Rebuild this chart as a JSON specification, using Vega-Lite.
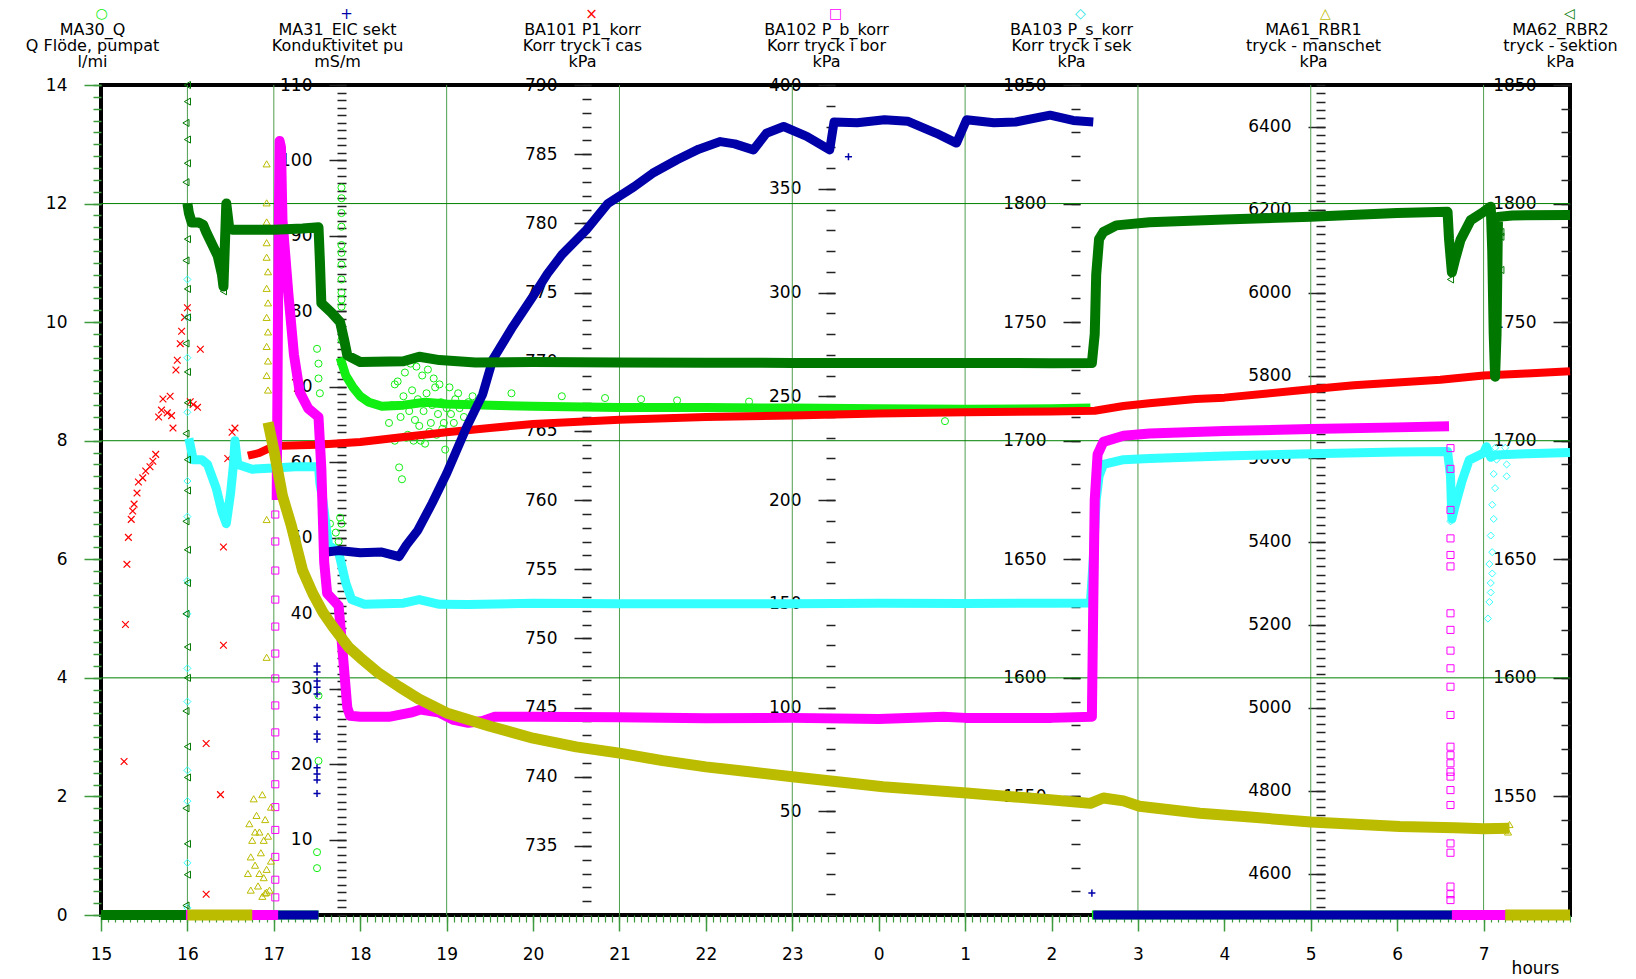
{
"$schema":"https://vega.github.io/schema/vega-lite/v6.json",
"width":1469,"height":830,
"autosize":{"type":"none"},
"padding":{"left":101,"top":85,"right":66,"bottom":64},
"background":"white",
"config":{
 "view":{"stroke":"#000","strokeWidth":4},
 "font":"DejaVu Sans",
 "axis":{"labelFont":"DejaVu Sans","titleFont":"DejaVu Sans","labelColor":"#000","titleColor":"#000","labelFontSize":17,"titleFontWeight":"normal","labelOverlap":false,"labelFlush":false,"domain":false,"grid":false,"tickWidth":1.5}
},
"resolve":{"scale":{"y":"independent"},"axis":{"x":"independent","y":"independent"}},
"datasets":{
"gx":[{"t":16},{"t":17},{"t":19},{"t":21},{"t":23},{"t":25},{"t":27},{"t":29},{"t":31}],
"gy":[{"v":4},{"v":8},{"v":12}],
"ma30l":[{"t":15,"v":0,"g":1},{"t":17.517,"v":0,"g":1},
{"t":17.767,"v":9.4,"g":2},{"t":17.833,"v":9.1,"g":2},{"t":17.917,"v":8.9,"g":2},{"t":18,"v":8.75,"g":2},{"t":18.1,"v":8.65,"g":2},{"t":18.25,"v":8.58,"g":2},{"t":18.5,"v":8.6,"g":2},{"t":18.75,"v":8.65,"g":2},{"t":19,"v":8.62,"g":2},{"t":19.5,"v":8.6,"g":2},{"t":20,"v":8.58,"g":2},{"t":21,"v":8.56,"g":2},{"t":22,"v":8.56,"g":2},{"t":23,"v":8.55,"g":2},{"t":24,"v":8.54,"g":2},{"t":25,"v":8.53,"g":2},{"t":26,"v":8.54,"g":2},{"t":26.45,"v":8.55,"g":2},
{"t":26.467,"v":0,"g":3},{"t":32,"v":0,"g":3}],
"ma30p":[{"t":17.5,"v":1.06},{"t":17.5,"v":0.79},{"t":17.517,"v":2.6},{"t":17.517,"v":3.7},{"t":17.5,"v":9.55},{"t":17.517,"v":9.3},{"t":17.517,"v":9.05},{"t":17.533,"v":8.8},
{"t":17.567,"v":6.9},{"t":17.583,"v":6.5},{"t":17.617,"v":6.3},{"t":17.65,"v":6.6},{"t":17.683,"v":6.2},{"t":17.717,"v":6.45},{"t":17.75,"v":6.3},{"t":17.767,"v":6.7},{"t":17.783,"v":6.6},
{"t":17.783,"v":12.27},{"t":17.783,"v":12.09},{"t":17.783,"v":11.84},{"t":17.783,"v":11.61},{"t":17.783,"v":11.3},{"t":17.783,"v":11.17},{"t":17.783,"v":10.97},{"t":17.783,"v":10.72},{"t":17.783,"v":10.5},{"t":17.783,"v":10.38},{"t":17.783,"v":10.26},{"t":17.783,"v":9.95},{"t":17.783,"v":9.7},
{"t":18.333,"v":8.3},{"t":18.4,"v":8.95},{"t":18.45,"v":7.55},{"t":18.483,"v":7.35},{"t":18.517,"v":9.15},{"t":18.55,"v":8.1},{"t":18.583,"v":9.3},{"t":18.617,"v":8.0},{"t":18.65,"v":9.25},{"t":18.683,"v":8.25},{"t":18.717,"v":9.1},{"t":18.75,"v":7.95},{"t":18.783,"v":9.2},{"t":18.817,"v":8.3},{"t":18.85,"v":9.05},{"t":18.883,"v":8.1},{"t":18.917,"v":8.95},{"t":18.95,"v":8.2},{"t":18.983,"v":7.85},{"t":19.033,"v":8.9},{"t":19.083,"v":8.3},{"t":19.133,"v":8.8},{"t":19.2,"v":8.4},{"t":19.3,"v":8.75},
{"t":18.367,"v":8.6},{"t":18.4,"v":8.0},{"t":18.433,"v":9.0},{"t":18.467,"v":8.4},{"t":18.5,"v":8.75},{"t":18.533,"v":8.05},{"t":18.567,"v":8.5},{"t":18.6,"v":8.85},{"t":18.633,"v":8.35},{"t":18.667,"v":8.7},{"t":18.7,"v":8.0},{"t":18.733,"v":8.5},{"t":18.767,"v":8.8},{"t":18.8,"v":8.15},{"t":18.833,"v":8.6},{"t":18.867,"v":8.9},{"t":18.9,"v":8.45},{"t":18.933,"v":8.65},{"t":18.967,"v":8.3},{"t":19.0,"v":8.55},{"t":19.05,"v":8.45},{"t":19.1,"v":8.7},{"t":19.15,"v":8.55},{"t":19.25,"v":8.65},
{"t":19.75,"v":8.8},{"t":20.333,"v":8.75},{"t":20.833,"v":8.72},{"t":21.25,"v":8.7},{"t":21.667,"v":8.68},{"t":22.5,"v":8.66},{"t":24.767,"v":8.33}],
"ba101l":[{"t":16.7,"v":763.2,"g":1},{"t":16.833,"v":763.4,"g":1},{"t":17,"v":763.9,"g":1},{"t":17.5,"v":764.0,"g":1},{"t":18,"v":764.2,"g":1},{"t":18.5,"v":764.55,"g":1},{"t":19,"v":764.9,"g":1},{"t":19.5,"v":765.2,"g":1},{"t":20,"v":765.5,"g":1},{"t":21,"v":765.8,"g":1},{"t":22,"v":766.0,"g":1},{"t":23,"v":766.1,"g":1},{"t":24,"v":766.25,"g":1},{"t":25,"v":766.35,"g":1},{"t":26,"v":766.4,"g":1},{"t":26.5,"v":766.45,"g":1},{"t":26.833,"v":766.8,"g":1},{"t":27.133,"v":767.0,"g":1},{"t":27.667,"v":767.3,"g":1},{"t":28,"v":767.4,"g":1},{"t":28.5,"v":767.7,"g":1},{"t":29,"v":768.0,"g":1},{"t":29.5,"v":768.3,"g":1},{"t":30,"v":768.5,"g":1},{"t":30.5,"v":768.7,"g":1},{"t":31,"v":769.0,"g":1},{"t":31.5,"v":769.15,"g":1},{"t":32,"v":769.3,"g":1}],
"ba101p":[{"t":15.267,"v":741.1},{"t":15.283,"v":751.0},{"t":15.3,"v":755.35},{"t":15.317,"v":757.3},{"t":15.35,"v":758.6},{"t":15.367,"v":759.2},{"t":15.383,"v":759.7},{"t":15.417,"v":760.5},{"t":15.433,"v":761.3},{"t":15.483,"v":761.6},{"t":15.517,"v":762.1},{"t":15.567,"v":762.4},{"t":15.6,"v":762.8},{"t":15.633,"v":763.3},{"t":15.667,"v":766.0},{"t":15.7,"v":766.5},{"t":15.717,"v":767.3},{"t":15.767,"v":766.3},{"t":15.8,"v":767.5},{"t":15.817,"v":766.1},{"t":15.833,"v":765.2},{"t":15.867,"v":769.4},{"t":15.883,"v":770.1},{"t":15.917,"v":771.3},{"t":15.933,"v":772.2},{"t":15.967,"v":773.2},{"t":16,"v":773.9},{"t":16.033,"v":767.1},{"t":16.067,"v":766.9},{"t":16.117,"v":766.7},{"t":16.15,"v":770.9},{"t":16.217,"v":742.4},{"t":16.217,"v":731.5},{"t":16.383,"v":738.7},{"t":16.417,"v":749.5},{"t":16.417,"v":756.6},{"t":16.467,"v":763.0},{"t":16.517,"v":764.9},{"t":16.55,"v":765.2}],
"ma62l":[{"t":15,"v":0,"g":1},{"t":15.983,"v":0,"g":1},
{"t":16,"v":1800,"g":2},{"t":16.017,"v":1796,"g":2},{"t":16.05,"v":1792,"g":2},{"t":16.133,"v":1792,"g":2},{"t":16.183,"v":1791,"g":2},{"t":16.217,"v":1788,"g":2},{"t":16.283,"v":1783,"g":2},{"t":16.35,"v":1778,"g":2},{"t":16.4,"v":1770,"g":2},{"t":16.417,"v":1765,"g":2},{"t":16.45,"v":1800,"g":2},{"t":16.483,"v":1790,"g":2},{"t":16.517,"v":1789,"g":2},{"t":17,"v":1789,"g":2},{"t":17.333,"v":1789.5,"g":2},{"t":17.517,"v":1790,"g":2},{"t":17.533,"v":1776,"g":2},{"t":17.55,"v":1758,"g":2},{"t":17.667,"v":1754,"g":2},{"t":17.767,"v":1750,"g":2},{"t":17.817,"v":1742,"g":2},{"t":17.85,"v":1736,"g":2},{"t":18,"v":1733.2,"g":2},{"t":18.5,"v":1733.5,"g":2},{"t":18.683,"v":1735.4,"g":2},{"t":18.917,"v":1734,"g":2},{"t":19.333,"v":1733,"g":2},{"t":20,"v":1733.2,"g":2},{"t":21,"v":1733,"g":2},{"t":22,"v":1732.9,"g":2},{"t":23,"v":1732.8,"g":2},{"t":24,"v":1732.8,"g":2},{"t":25,"v":1732.8,"g":2},{"t":26,"v":1732.7,"g":2},{"t":26.467,"v":1732.8,"g":2},{"t":26.5,"v":1745,"g":2},{"t":26.517,"v":1770,"g":2},{"t":26.55,"v":1785,"g":2},{"t":26.6,"v":1788,"g":2},{"t":26.75,"v":1790.8,"g":2},{"t":27.133,"v":1792.1,"g":2},{"t":28,"v":1793.3,"g":2},{"t":29,"v":1794.4,"g":2},{"t":30,"v":1796,"g":2},{"t":30.583,"v":1796.5,"g":2},{"t":30.6,"v":1785,"g":2},{"t":30.633,"v":1771,"g":2},{"t":30.667,"v":1776,"g":2},{"t":30.733,"v":1784.7,"g":2},{"t":30.85,"v":1793,"g":2},{"t":31,"v":1796.5,"g":2},{"t":31.083,"v":1798.7,"g":2},{"t":31.1,"v":1780,"g":2},{"t":31.117,"v":1745,"g":2},{"t":31.133,"v":1727,"g":2},{"t":31.15,"v":1745,"g":2},{"t":31.167,"v":1794.4,"g":2},{"t":31.333,"v":1795,"g":2},{"t":32,"v":1795.2,"g":2}],
"ma62p":[{"t":16,"v":1850},{"t":16,"v":1843},{"t":15.983,"v":1834},{"t":16,"v":1827},{"t":16,"v":1817},{"t":15.983,"v":1809},{"t":16,"v":1798},{"t":16,"v":1785},{"t":15.983,"v":1776},{"t":16,"v":1764},{"t":16,"v":1752},{"t":15.983,"v":1741},{"t":16,"v":1729},{"t":16,"v":1716},{"t":15.983,"v":1703},{"t":16,"v":1692},{"t":16,"v":1679},{"t":15.983,"v":1666},{"t":16,"v":1654},{"t":16,"v":1640},{"t":15.983,"v":1627},{"t":16,"v":1613},{"t":16,"v":1600},{"t":15.983,"v":1586},{"t":16,"v":1571},{"t":16,"v":1558},{"t":15.983,"v":1545},{"t":16,"v":1530},{"t":16,"v":1517},{"t":15.983,"v":1504},{"t":16.417,"v":1763},
{"t":30.617,"v":1768},{"t":30.617,"v":1773},{"t":30.617,"v":1779},{"t":30.6,"v":1786},{"t":30.6,"v":1791},
{"t":31.1,"v":1790},{"t":31.1,"v":1760},{"t":31.117,"v":1735},{"t":31.117,"v":1770},{"t":31.133,"v":1750},{"t":31.133,"v":1728},{"t":31.15,"v":1765},{"t":31.15,"v":1782},{"t":31.2,"v":1788},{"t":31.2,"v":1772},{"t":31.2,"v":1786}],
"ba103l":[{"t":15,"v":0,"g":1},{"t":15.983,"v":0,"g":1},
{"t":16.017,"v":1701,"g":2},{"t":16.067,"v":1692,"g":2},{"t":16.167,"v":1692,"g":2},{"t":16.233,"v":1690,"g":2},{"t":16.333,"v":1680,"g":2},{"t":16.4,"v":1670,"g":2},{"t":16.45,"v":1665,"g":2},{"t":16.5,"v":1678,"g":2},{"t":16.533,"v":1690,"g":2},{"t":16.55,"v":1700,"g":2},{"t":16.583,"v":1690,"g":2},{"t":16.75,"v":1688,"g":2},{"t":17,"v":1688.5,"g":2},{"t":17.25,"v":1689,"g":2},{"t":17.517,"v":1689,"g":2},{"t":17.533,"v":1682,"g":2},{"t":17.567,"v":1675,"g":2},{"t":17.633,"v":1656,"g":2},{"t":17.75,"v":1653,"g":2},{"t":17.833,"v":1640,"g":2},{"t":17.9,"v":1633,"g":2},{"t":18.05,"v":1631,"g":2},{"t":18.5,"v":1631.5,"g":2},{"t":18.683,"v":1633,"g":2},{"t":18.917,"v":1631,"g":2},{"t":19.25,"v":1630.9,"g":2},{"t":20,"v":1631.5,"g":2},{"t":21,"v":1631.3,"g":2},{"t":22,"v":1631.3,"g":2},{"t":23,"v":1631.2,"g":2},{"t":24,"v":1631.5,"g":2},{"t":25,"v":1631.4,"g":2},{"t":26,"v":1631.5,"g":2},{"t":26.45,"v":1631.6,"g":2},{"t":26.483,"v":1650,"g":2},{"t":26.517,"v":1675,"g":2},{"t":26.55,"v":1685,"g":2},{"t":26.6,"v":1690,"g":2},{"t":26.833,"v":1692,"g":2},{"t":27.133,"v":1692.5,"g":2},{"t":28,"v":1693.6,"g":2},{"t":29,"v":1694.5,"g":2},{"t":30,"v":1695.2,"g":2},{"t":30.583,"v":1695.5,"g":2},{"t":30.617,"v":1685,"g":2},{"t":30.633,"v":1667,"g":2},{"t":30.667,"v":1672,"g":2},{"t":30.75,"v":1683,"g":2},{"t":30.833,"v":1691.8,"g":2},{"t":31,"v":1694.8,"g":2},{"t":31.033,"v":1697.5,"g":2},{"t":31.083,"v":1693,"g":2},{"t":31.133,"v":1694,"g":2},{"t":31.5,"v":1694.5,"g":2},{"t":32,"v":1695,"g":2}],
"ba103p":[{"t":16,"v":1503},{"t":16,"v":1522},{"t":16,"v":1548},{"t":16,"v":1561},{"t":16,"v":1590},{"t":16,"v":1604},{"t":16,"v":1627},{"t":16,"v":1641},{"t":16,"v":1668},{"t":16,"v":1683},{"t":16,"v":1712},{"t":16,"v":1735},{"t":16,"v":1752},{"t":16,"v":1768},
{"t":30.617,"v":1666},{"t":30.617,"v":1675},{"t":30.633,"v":1680},
{"t":31.05,"v":1625},{"t":31.067,"v":1632},{"t":31.083,"v":1640},{"t":31.067,"v":1648},{"t":31.1,"v":1653},{"t":31.083,"v":1660},{"t":31.117,"v":1667},{"t":31.1,"v":1673},{"t":31.133,"v":1680},{"t":31.117,"v":1686},{"t":31.15,"v":1692},{"t":31.133,"v":1697},{"t":31.083,"v":1636},{"t":31.1,"v":1644},{"t":31.25,"v":1697},{"t":31.267,"v":1690},{"t":31.267,"v":1685}],
"ma31l":[{"t":15,"v":0,"g":1},{"t":17.517,"v":0,"g":1},
{"t":17.55,"v":48.0,"g":2},{"t":17.75,"v":48.3,"g":2},{"t":18,"v":48.0,"g":2},{"t":18.25,"v":48.1,"g":2},{"t":18.45,"v":47.5,"g":2},{"t":18.533,"v":49.0,"g":2},{"t":18.667,"v":51.0,"g":2},{"t":18.833,"v":54.6,"g":2},{"t":19,"v":58.5,"g":2},{"t":19.233,"v":64.7,"g":2},{"t":19.417,"v":69.0,"g":2},{"t":19.533,"v":73.6,"g":2},{"t":19.767,"v":78.0,"g":2},{"t":20,"v":82.0,"g":2},{"t":20.167,"v":85.0,"g":2},{"t":20.333,"v":87.5,"g":2},{"t":20.617,"v":90.8,"g":2},{"t":20.867,"v":94.3,"g":2},{"t":21.167,"v":96.5,"g":2},{"t":21.383,"v":98.3,"g":2},{"t":21.667,"v":100.1,"g":2},{"t":21.917,"v":101.5,"g":2},{"t":22.167,"v":102.5,"g":2},{"t":22.333,"v":102.2,"g":2},{"t":22.55,"v":101.4,"g":2},{"t":22.7,"v":103.6,"g":2},{"t":22.9,"v":104.5,"g":2},{"t":23.167,"v":103.2,"g":2},{"t":23.433,"v":101.4,"g":2},{"t":23.483,"v":105.1,"g":2},{"t":23.75,"v":105.0,"g":2},{"t":24.067,"v":105.4,"g":2},{"t":24.333,"v":105.2,"g":2},{"t":24.667,"v":103.6,"g":2},{"t":24.9,"v":102.3,"g":2},{"t":25.017,"v":105.4,"g":2},{"t":25.333,"v":105.0,"g":2},{"t":25.583,"v":105.1,"g":2},{"t":25.983,"v":106.0,"g":2},{"t":26.25,"v":105.3,"g":2},{"t":26.483,"v":105.1,"g":2},
{"t":26.483,"v":0,"g":3},{"t":32,"v":0,"g":3}],
"ma31p":[{"t":17.5,"v":33.0},{"t":17.5,"v":32.2},{"t":17.5,"v":31.0},{"t":17.5,"v":30.2},{"t":17.5,"v":29.3},{"t":17.5,"v":27.5},{"t":17.5,"v":26.2},{"t":17.5,"v":24.0},{"t":17.5,"v":23.3},{"t":17.5,"v":19.5},{"t":17.5,"v":18.7},{"t":17.5,"v":17.9},{"t":17.5,"v":16.1},{"t":23.65,"v":100.5},{"t":26.467,"v":38.2},{"t":26.467,"v":2.9}],
"ba102l":[{"t":15,"v":0,"g":1},{"t":17.05,"v":0,"g":1},
{"t":17.033,"v":200,"g":2},{"t":17.05,"v":300,"g":2},{"t":17.067,"v":373,"g":2},{"t":17.083,"v":370,"g":2},{"t":17.1,"v":335,"g":2},{"t":17.167,"v":300,"g":2},{"t":17.233,"v":270,"g":2},{"t":17.3,"v":252,"g":2},{"t":17.4,"v":244,"g":2},{"t":17.517,"v":240,"g":2},{"t":17.55,"v":215,"g":2},{"t":17.583,"v":170,"g":2},{"t":17.617,"v":155,"g":2},{"t":17.75,"v":149,"g":2},{"t":17.8,"v":125,"g":2},{"t":17.85,"v":100,"g":2},{"t":17.883,"v":96,"g":2},{"t":18,"v":95.5,"g":2},{"t":18.333,"v":95.5,"g":2},{"t":18.583,"v":97.5,"g":2},{"t":18.7,"v":99,"g":2},{"t":18.917,"v":97.5,"g":2},{"t":19.083,"v":94,"g":2},{"t":19.25,"v":92.6,"g":2},{"t":19.417,"v":93.5,"g":2},{"t":19.55,"v":95.5,"g":2},{"t":20,"v":95.5,"g":2},{"t":21,"v":95.3,"g":2},{"t":22,"v":94.8,"g":2},{"t":23,"v":95.0,"g":2},{"t":24,"v":94.5,"g":2},{"t":24.75,"v":95.5,"g":2},{"t":25,"v":95,"g":2},{"t":26,"v":95,"g":2},{"t":26.467,"v":95.5,"g":2},{"t":26.483,"v":150,"g":2},{"t":26.5,"v":200,"g":2},{"t":26.533,"v":222,"g":2},{"t":26.6,"v":228,"g":2},{"t":26.833,"v":231,"g":2},{"t":27.133,"v":232,"g":2},{"t":28,"v":233.2,"g":2},{"t":29,"v":234.2,"g":2},{"t":30,"v":235,"g":2},{"t":30.6,"v":235.5,"g":2},
{"t":30.633,"v":0,"g":3},{"t":32,"v":0,"g":3}],
"ba102p":[{"t":17.017,"v":8.5},{"t":17.017,"v":17},{"t":17.017,"v":28},{"t":17.017,"v":41},{"t":17.017,"v":52},{"t":17.017,"v":63},{"t":17.017,"v":77},{"t":17.017,"v":88},{"t":17.017,"v":101},{"t":17.017,"v":114},{"t":17.017,"v":126},{"t":17.017,"v":139},{"t":17.017,"v":152},{"t":17.017,"v":166},{"t":17.017,"v":180},{"t":17.017,"v":193},
{"t":30.617,"v":225},{"t":30.617,"v":215},{"t":30.617,"v":195.2},{"t":30.617,"v":181.5},{"t":30.617,"v":173.5},{"t":30.617,"v":168},{"t":30.617,"v":145.4},{"t":30.617,"v":137.4},{"t":30.617,"v":127.4},{"t":30.617,"v":118.9},{"t":30.617,"v":110},{"t":30.617,"v":96.4},{"t":30.617,"v":81.1},{"t":30.617,"v":77},{"t":30.617,"v":73.1},{"t":30.617,"v":69},{"t":30.617,"v":66.7},{"t":30.617,"v":60.2},{"t":30.617,"v":53},{"t":30.617,"v":34.5},{"t":30.617,"v":30},{"t":30.617,"v":13.7},{"t":30.617,"v":10},{"t":30.617,"v":7.2}],
"ma61l":[{"t":16.0,"v":0,"g":1},{"t":16.75,"v":0,"g":1},
{"t":16.933,"v":5687,"g":2},{"t":17.0,"v":5621,"g":2},{"t":17.1,"v":5510,"g":2},{"t":17.2,"v":5440,"g":2},{"t":17.333,"v":5330,"g":2},{"t":17.45,"v":5275,"g":2},{"t":17.567,"v":5230,"g":2},{"t":17.683,"v":5195,"g":2},{"t":17.867,"v":5145,"g":2},{"t":18,"v":5120,"g":2},{"t":18.2,"v":5085,"g":2},{"t":18.45,"v":5050,"g":2},{"t":18.683,"v":5020,"g":2},{"t":19,"v":4987,"g":2},{"t":19.5,"v":4955,"g":2},{"t":20,"v":4926,"g":2},{"t":20.5,"v":4905,"g":2},{"t":21,"v":4890,"g":2},{"t":21.5,"v":4872,"g":2},{"t":22,"v":4857,"g":2},{"t":22.5,"v":4845,"g":2},{"t":23,"v":4833,"g":2},{"t":24.05,"v":4809,"g":2},{"t":25.017,"v":4794,"g":2},{"t":26.017,"v":4777,"g":2},{"t":26.45,"v":4769,"g":2},{"t":26.6,"v":4782,"g":2},{"t":26.833,"v":4775,"g":2},{"t":27.017,"v":4762,"g":2},{"t":27.717,"v":4745,"g":2},{"t":28.3,"v":4736,"g":2},{"t":29,"v":4724,"g":2},{"t":30.033,"v":4713,"g":2},{"t":30.667,"v":4710,"g":2},{"t":31,"v":4708,"g":2},{"t":31.3,"v":4709,"g":2},
{"t":31.25,"v":0,"g":3},{"t":32,"v":0,"g":3}],
"ma61p":[{"t":16.7,"v":4600},{"t":16.717,"v":4720},{"t":16.733,"v":4560},{"t":16.75,"v":4680},{"t":16.767,"v":4780},{"t":16.783,"v":4620},{"t":16.8,"v":4740},{"t":16.817,"v":4570},{"t":16.833,"v":4700},{"t":16.85,"v":4650},{"t":16.867,"v":4790},{"t":16.883,"v":4590},{"t":16.9,"v":4730},{"t":16.917,"v":4610},{"t":16.933,"v":4690},{"t":16.95,"v":4560},{"t":16.967,"v":4760},{"t":16.733,"v":4640},{"t":16.833,"v":4600},{"t":16.883,"v":4680},{"t":16.783,"v":4700},{"t":16.917,"v":4555},{"t":16.967,"v":4630},{"t":16.867,"v":4545},
{"t":16.917,"v":6310},{"t":16.917,"v":6216},{"t":16.917,"v":6170},{"t":16.917,"v":6120},{"t":16.917,"v":6085},{"t":16.933,"v":6050},{"t":16.917,"v":6010},{"t":16.933,"v":5975},{"t":16.917,"v":5940},{"t":16.933,"v":5905},{"t":16.917,"v":5870},{"t":16.933,"v":5835},{"t":16.917,"v":5800},{"t":16.933,"v":5765},{"t":16.917,"v":5453},{"t":16.917,"v":5121},{"t":16.9,"v":4553},
{"t":31.25,"v":4712},{"t":31.283,"v":4700},{"t":31.3,"v":4718}]
},
"layer":[
{"data":{"name":"gx"},
 "mark":{"type":"rule","color":"#4f9f4f","strokeWidth":1},
 "encoding":{
  "x":{"field":"t","type":"quantitative","scale":{"domain":[15,32],"nice":false,"zero":false},
   "axis":{"orient":"bottom","values":[15,16,17,18,19,20,21,22,23,24,25,26,27,28,29,30,31],"labelExpr":"'' + (datum.value % 24)","tickSize":16,"tickColor":"#3d9a3d","labelPadding":15,"title":"hours","titleX":1434,"titleY":58,"titleAlign":"center","titleBaseline":"alphabetic","titleFontSize":17,"zindex":0}}}},
{"data":{"name":"gy"},
 "mark":{"type":"rule","color":"#008000","strokeWidth":1},
 "encoding":{
  "y":{"field":"v","type":"quantitative","scale":{"domain":[0,14],"nice":false,"zero":false},"axis":null}}},
{"data":{"name":"ma30l"},
 "mark":{"type":"line","color":"#11ee11","strokeWidth":9,"strokeJoin":"round"},
 "encoding":{
  "x":{"field":"t","type":"quantitative","scale":{"domain":[15,32],"nice":false,"zero":false},"axis":null},
  "y":{"field":"v","type":"quantitative","scale":{"domain":[0,14],"nice":false,"zero":false,"clamp":true},
   "axis":{"orient":"left","offset":0,"values":[0,2,4,6,8,10,12,14],"format":"d","tickSize":17,"tickColor":"#3d9a3d","labelPadding":17,"title":["MA30_Q","Q Flöde, pumpat","l/mi"],"titleX":-9,"titleY":-51,"titleAngle":0,"titleAlign":"center","titleBaseline":"alphabetic","titleFontSize":16,"titleLineHeight":16,"zindex":0}},
  "detail":{"field":"g","type":"nominal"}}},
{"data":{"name":"ma30p"},
 "mark":{"type":"point","shape":"circle","filled":false,"size":50,"strokeWidth":1,"color":"#11ee11","opacity":1},
 "encoding":{
  "x":{"field":"t","type":"quantitative","scale":{"domain":[15,32],"nice":false,"zero":false},
   "axis":{"orient":"bottom","values":[15,15.083,15.167,15.25,15.333,15.417,15.5,15.583,15.667,15.75,15.833,15.917,16,16.083,16.167,16.25,16.333,16.417,16.5,16.583,16.667,16.75,16.833,16.917,17,17.083,17.167,17.25,17.333,17.417,17.5,17.583,17.667,17.75,17.833,17.917,18,18.083,18.167,18.25,18.333,18.417,18.5,18.583,18.667,18.75,18.833,18.917,19,19.083,19.167,19.25,19.333,19.417,19.5,19.583,19.667,19.75,19.833,19.917,20,20.083,20.167,20.25,20.333,20.417,20.5,20.583,20.667,20.75,20.833,20.917,21,21.083,21.167,21.25,21.333,21.417,21.5,21.583,21.667,21.75,21.833,21.917,22,22.083,22.167,22.25,22.333,22.417,22.5,22.583,22.667,22.75,22.833,22.917,23,23.083,23.167,23.25,23.333,23.417,23.5,23.583,23.667,23.75,23.833,23.917,24,24.083,24.167,24.25,24.333,24.417,24.5,24.583,24.667,24.75,24.833,24.917,25,25.083,25.167,25.25,25.333,25.417,25.5,25.583,25.667,25.75,25.833,25.917,26,26.083,26.167,26.25,26.333,26.417,26.5,26.583,26.667,26.75,26.833,26.917,27,27.083,27.167,27.25,27.333,27.417,27.5,27.583,27.667,27.75,27.833,27.917,28,28.083,28.167,28.25,28.333,28.417,28.5,28.583,28.667,28.75,28.833,28.917,29,29.083,29.167,29.25,29.333,29.417,29.5,29.583,29.667,29.75,29.833,29.917,30,30.083,30.167,30.25,30.333,30.417,30.5,30.583,30.667,30.75,30.833,30.917,31,31.083,31.167,31.25,31.333,31.417,31.5,31.583,31.667,31.75,31.833,31.917,32],"labels":false,"tickSize":7,"tickColor":"#3d9a3d","tickWidth":1.2,"title":null,"zindex":0}},
  "y":{"field":"v","type":"quantitative","scale":{"domain":[0,14],"nice":false,"zero":false,"clamp":true},
   "axis":{"orient":"left","offset":0,"tickCount":70,"labels":false,"tickSize":8,"tickColor":"#3d9a3d","title":"○","titleColor":"#11ee11","titleFontSize":14,"titleX":0,"titleY":-72,"titleAngle":0,"titleAlign":"center","titleBaseline":"middle","zindex":0}}}},
{"data":{"name":"ba101l"},
 "mark":{"type":"line","color":"#ff0000","strokeWidth":8,"strokeJoin":"round"},
 "encoding":{
  "x":{"field":"t","type":"quantitative","scale":{"domain":[15,32],"nice":false,"zero":false},"axis":null},
  "y":{"field":"v","type":"quantitative","scale":{"domain":[730,790],"nice":false,"zero":false,"clamp":true},
   "axis":{"orient":"left","offset":-490,"values":[735,740,745,750,755,760,765,770,775,780,785,790],"format":"d","tickSize":17,"tickColor":"#222","labelPadding":17,"title":["BA101 P1_korr","Korr tryck i cas","kPa"],"titleX":-9,"titleY":-51,"titleAngle":0,"titleAlign":"center","titleBaseline":"alphabetic","titleFontSize":16,"titleLineHeight":16,"zindex":0}},
  "detail":{"field":"g","type":"nominal"}}},
{"data":{"name":"ba101p"},
 "mark":{"type":"point","shape":"M-1,-1L1,1M-1,1L1,-1","filled":false,"size":45,"strokeWidth":1.2,"color":"#ff0000","opacity":1},
 "encoding":{
  "x":{"field":"t","type":"quantitative","scale":{"domain":[15,32],"nice":false,"zero":false},"axis":null},
  "y":{"field":"v","type":"quantitative","scale":{"domain":[730,790],"nice":false,"zero":false,"clamp":true},
   "axis":{"orient":"left","offset":-490,"tickCount":60,"labels":false,"tickSize":9,"tickColor":"#222","title":"×","titleColor":"#ff0000","titleFontSize":15,"titleX":0,"titleY":-72,"titleAngle":0,"titleAlign":"center","titleBaseline":"middle","zindex":0}}}},
{"data":{"name":"ba103l"},
 "mark":{"type":"line","color":"#33ffff","strokeWidth":9,"strokeJoin":"round"},
 "encoding":{
  "x":{"field":"t","type":"quantitative","scale":{"domain":[15,32],"nice":false,"zero":false},"axis":null},
  "y":{"field":"v","type":"quantitative","scale":{"domain":[1500,1850],"nice":false,"zero":false,"clamp":true},
   "axis":{"orient":"left","offset":-979,"values":[1550,1600,1650,1700,1750,1800,1850],"format":"d","tickSize":17,"tickColor":"#222","labelPadding":17,"title":["BA103 P_s_korr","Korr tryck i sek","kPa"],"titleX":-9,"titleY":-51,"titleAngle":0,"titleAlign":"center","titleBaseline":"alphabetic","titleFontSize":16,"titleLineHeight":16,"zindex":0}},
  "detail":{"field":"g","type":"nominal"}}},
{"data":{"name":"ba103p"},
 "mark":{"type":"point","shape":"diamond","filled":false,"size":50,"strokeWidth":1,"color":"#33ffff","opacity":1},
 "encoding":{
  "x":{"field":"t","type":"quantitative","scale":{"domain":[15,32],"nice":false,"zero":false},"axis":null},
  "y":{"field":"v","type":"quantitative","scale":{"domain":[1500,1850],"nice":false,"zero":false,"clamp":true},
   "axis":{"orient":"left","offset":-979,"tickCount":35,"labels":false,"tickSize":9,"tickColor":"#222","title":"◇","titleColor":"#22e5e5","titleFontSize":14,"titleX":0,"titleY":-72,"titleAngle":0,"titleAlign":"center","titleBaseline":"middle","zindex":0}}}},
{"data":{"name":"ma31l"},
 "mark":{"type":"line","color":"#0000a8","strokeWidth":9,"strokeJoin":"round"},
 "encoding":{
  "x":{"field":"t","type":"quantitative","scale":{"domain":[15,32],"nice":false,"zero":false},"axis":null},
  "y":{"field":"v","type":"quantitative","scale":{"domain":[0,110],"nice":false,"zero":false,"clamp":true},
   "axis":{"orient":"left","offset":-245,"values":[10,20,30,40,50,60,70,80,90,100,110],"format":"d","tickSize":17,"tickColor":"#222","labelPadding":17,"title":["MA31_EIC sekt","Konduktivitet pu","mS/m"],"titleX":-9,"titleY":-51,"titleAngle":0,"titleAlign":"center","titleBaseline":"alphabetic","titleFontSize":16,"titleLineHeight":16,"zindex":0}},
  "detail":{"field":"g","type":"nominal"}}},
{"data":{"name":"ma31p"},
 "mark":{"type":"point","shape":"M-1,0L1,0M0,-1L0,1","filled":false,"size":50,"strokeWidth":1.5,"color":"#0000a8","opacity":1},
 "encoding":{
  "x":{"field":"t","type":"quantitative","scale":{"domain":[15,32],"nice":false,"zero":false},"axis":null},
  "y":{"field":"v","type":"quantitative","scale":{"domain":[0,110],"nice":false,"zero":false,"clamp":true},
   "axis":{"orient":"left","offset":-245,"tickCount":110,"labels":false,"tickSize":9,"tickColor":"#222","title":"+","titleColor":"#0000a8","titleFontSize":15,"titleX":0,"titleY":-72,"titleAngle":0,"titleAlign":"center","titleBaseline":"middle","zindex":0}}}},
{"data":{"name":"ba102l"},
 "mark":{"type":"line","color":"#ff00ff","strokeWidth":10,"strokeJoin":"round"},
 "encoding":{
  "x":{"field":"t","type":"quantitative","scale":{"domain":[15,32],"nice":false,"zero":false},"axis":null},
  "y":{"field":"v","type":"quantitative","scale":{"domain":[0,400],"nice":false,"zero":false,"clamp":true},
   "axis":{"orient":"left","offset":-734,"values":[50,100,150,200,250,300,350,400],"format":"d","tickSize":17,"tickColor":"#222","labelPadding":17,"title":["BA102 P_b_korr","Korr tryck i bor","kPa"],"titleX":-9,"titleY":-51,"titleAngle":0,"titleAlign":"center","titleBaseline":"alphabetic","titleFontSize":16,"titleLineHeight":16,"zindex":0}},
  "detail":{"field":"g","type":"nominal"}}},
{"data":{"name":"ba102p"},
 "mark":{"type":"point","shape":"square","filled":false,"size":50,"strokeWidth":1,"color":"#ff00ff","opacity":1},
 "encoding":{
  "x":{"field":"t","type":"quantitative","scale":{"domain":[15,32],"nice":false,"zero":false},"axis":null},
  "y":{"field":"v","type":"quantitative","scale":{"domain":[0,400],"nice":false,"zero":false,"clamp":true},
   "axis":{"orient":"left","offset":-734,"tickCount":40,"labels":false,"tickSize":9,"tickColor":"#222","title":"□","titleColor":"#ff00ff","titleFontSize":14,"titleX":0,"titleY":-72,"titleAngle":0,"titleAlign":"center","titleBaseline":"middle","zindex":0}}}},
{"data":{"name":"ma61l"},
 "mark":{"type":"line","color":"#bbbb00","strokeWidth":11,"strokeJoin":"round"},
 "encoding":{
  "x":{"field":"t","type":"quantitative","scale":{"domain":[15,32],"nice":false,"zero":false},"axis":null},
  "y":{"field":"v","type":"quantitative","scale":{"domain":[4500,6500],"nice":false,"zero":false,"clamp":true},
   "axis":{"orient":"left","offset":-1224,"values":[4600,4800,5000,5200,5400,5600,5800,6000,6200,6400],"format":"d","tickSize":17,"tickColor":"#222","labelPadding":17,"title":["MA61_RBR1","tryck - manschet","kPa"],"titleX":-12,"titleY":-51,"titleAngle":0,"titleAlign":"center","titleBaseline":"alphabetic","titleFontSize":16,"titleLineHeight":16,"zindex":0}},
  "detail":{"field":"g","type":"nominal"}}},
{"data":{"name":"ma61p"},
 "mark":{"type":"point","shape":"triangle-up","filled":false,"size":50,"strokeWidth":1,"color":"#bbbb00","opacity":1},
 "encoding":{
  "x":{"field":"t","type":"quantitative","scale":{"domain":[15,32],"nice":false,"zero":false},"axis":null},
  "y":{"field":"v","type":"quantitative","scale":{"domain":[4500,6500],"nice":false,"zero":false,"clamp":true},
   "axis":{"orient":"left","offset":-1224,"tickCount":100,"labels":false,"tickSize":9,"tickColor":"#222","title":"△","titleColor":"#bbbb00","titleFontSize":14,"titleX":0,"titleY":-72,"titleAngle":0,"titleAlign":"center","titleBaseline":"middle","zindex":0}}}},
{"data":{"name":"ma62l"},
 "mark":{"type":"line","color":"#007800","strokeWidth":10,"strokeJoin":"round"},
 "encoding":{
  "x":{"field":"t","type":"quantitative","scale":{"domain":[15,32],"nice":false,"zero":false},"axis":null},
  "y":{"field":"v","type":"quantitative","scale":{"domain":[1500,1850],"nice":false,"zero":false,"clamp":true},
   "axis":{"orient":"left","offset":-1469,"values":[1550,1600,1650,1700,1750,1800,1850],"format":"d","tickSize":17,"tickColor":"#222","labelPadding":17,"title":["MA62_RBR2","tryck - sektion","kPa"],"titleX":-10,"titleY":-51,"titleAngle":0,"titleAlign":"center","titleBaseline":"alphabetic","titleFontSize":16,"titleLineHeight":16,"zindex":0}},
  "detail":{"field":"g","type":"nominal"}}},
{"data":{"name":"ma62p"},
 "mark":{"type":"point","shape":"triangle-left","filled":false,"size":50,"strokeWidth":1,"color":"#007800","opacity":1},
 "encoding":{
  "x":{"field":"t","type":"quantitative","scale":{"domain":[15,32],"nice":false,"zero":false},"axis":null},
  "y":{"field":"v","type":"quantitative","scale":{"domain":[1500,1850],"nice":false,"zero":false,"clamp":true},
   "axis":{"orient":"left","offset":-1469,"tickCount":35,"labels":false,"tickSize":9,"tickColor":"#222","title":"◁","titleColor":"#007800","titleFontSize":14,"titleX":-1,"titleY":-72,"titleAngle":0,"titleAlign":"center","titleBaseline":"middle","zindex":0}}}}
]
}
